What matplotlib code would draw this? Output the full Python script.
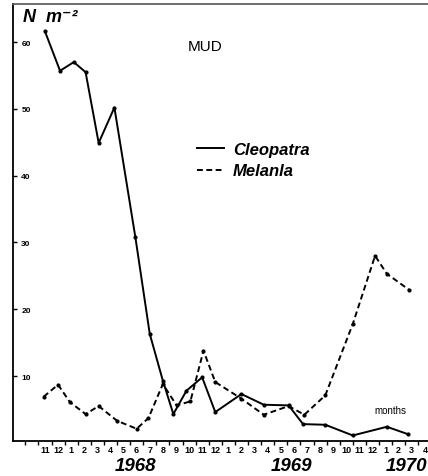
#!/usr/bin/env python3
import matplotlib
matplotlib.use("Agg")
import matplotlib.pyplot as plt
from matplotlib.ticker import FixedLocator

plt.rcParams['font.family'] = ['Liberation Sans', 'DejaVu Sans']

# Sampling dates in months since Nov 1967 (0 = Nov 1967), densities in N m^-2
cleo_month = [0, 1.15, 2.2, 3.1, 4.1, 5.3, 6.9, 8.0, 9.0, 9.8, 10.8, 12.0, 13.0,
              15.0, 16.7, 18.6, 19.7, 21.4, 23.5, 26.1, 27.7]
cleo_n = [61.6, 55.7, 57.0, 55.5, 44.9, 50.2, 30.8, 16.3, 9.3, 4.3, 7.8, 9.8, 4.6,
          7.3, 5.7, 5.6, 2.8, 2.7, 1.1, 2.4, 1.3]

mel_month = [-0.1, 1.0, 1.9, 3.1, 4.1, 5.5, 7.0, 7.9, 9.0, 10.05, 11.1, 12.1, 13.0,
             15.0, 16.7, 18.6, 19.8, 21.4, 23.5, 25.2, 26.1, 27.8]
mel_n = [6.9, 8.7, 6.1, 4.3, 5.5, 3.3, 2.1, 3.7, 8.8, 5.6, 6.2, 13.8, 9.1,
         6.6, 4.2, 5.5, 4.2, 7.1, 17.8, 28.0, 25.3, 22.9]

month_labels = ["11", "12"] + [str(m) for m in range(1, 13)] * 2 + ["1", "2", "3", "4"]
years = ["1968", "1969", "1970"]
year_pos = [6.9, 18.8, 27.6]
y_ticks = [10, 20, 30, 40, 50, 60]

fig = plt.figure(figsize=(4.28, 4.77), dpi=100)
ax = fig.add_axes([13 / 428, 35 / 477, 415 / 428, 437 / 477])

ax.plot(cleo_month, cleo_n, color="black", lw=1.4, marker="o", ms=2.0,
        label="Cleopatra")
ax.plot(mel_month, mel_n, color="black", lw=1.4, ls=(0, (3, 1.8)), marker="o",
        ms=2.0, label="Melanla")

ax.set_xlim(-2.44, 29.24)
ax.set_ylim(0.27, 65.7)

# spines
ax.spines["right"].set_visible(False)
ax.spines["top"].set_color("#555555")
ax.spines["top"].set_linewidth(1.2)
ax.spines["left"].set_linewidth(1.3)
ax.spines["bottom"].set_linewidth(1.3)

# x axis: ticks at month boundaries, labels at month centres
ax.xaxis.set_major_locator(FixedLocator([i - 0.5 for i in range(-1, 30)]))
ax.xaxis.set_minor_locator(FixedLocator(list(range(len(month_labels)))))
ax.set_xticklabels([], minor=False)
ax.set_xticklabels(month_labels, minor=True, fontsize=6.5, fontweight="bold")
ax.tick_params(axis="x", which="major", direction="out", length=3, width=1)
ax.tick_params(axis="x", which="minor", length=0, pad=3)

# y axis: labels inside the frame
ax.set_yticks(y_ticks)
ax.set_yticklabels([str(v) for v in y_ticks], fontsize=6, fontweight="bold")
ax.tick_params(axis="y", direction="in", length=3, width=1, pad=-6)
for lab in ax.get_yticklabels():
    lab.set_horizontalalignment("left")

for yr, xp in zip(years, year_pos):
    ax.text(xp, -0.057, yr, transform=ax.get_xaxis_transform(), ha="center",
            va="center", fontsize=13.5, fontweight="bold", fontstyle="italic",
            clip_on=False)

ax.text(26.4, (443.8 - 410.7) / 6.68, "months", ha="center", va="center",
        fontsize=7)
ax.text(12.2, (443.8 - 46.7) / 6.68, "MUD", ha="center", va="center", fontsize=11)
fig.text(23 / 428, 1 - 18 / 477, "N  m\u207b\u00b2", ha="left", va="center",
         fontsize=13, fontweight="bold", fontstyle="italic")

leg = ax.legend(loc="center left", bbox_to_anchor=(197 / 428, 1 - 161 / 477),
                bbox_transform=fig.transFigure, frameon=False, borderpad=0,
                borderaxespad=0, handlelength=1.6, handletextpad=0.55,
                labelspacing=0.4, markerscale=0,
                prop={"size": 12, "weight": "bold", "style": "italic"})

fig.savefig("out.png", dpi=100)
